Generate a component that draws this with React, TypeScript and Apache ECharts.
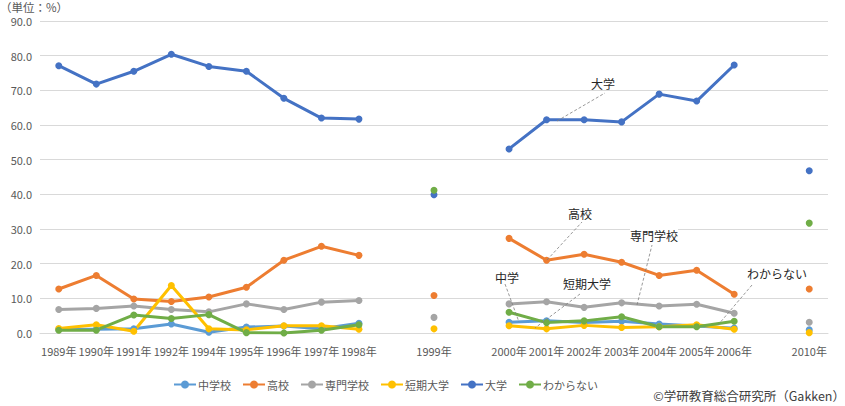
import React, { useEffect, useRef } from "react";
import * as echarts from "echarts";

const categories = ["1989年","1990年","1991年","1992年","1994年","1995年","1996年","1997年","1998年","","1999年","","2000年","2001年","2002年","2003年","2004年","2005年","2006年","","2010年"];
const yTicks = [0, 90, 10];

const seriesNames = ["中学校", "高校", "専門学校", "短期大学", "大学", "わからない"];
const seriesColors = ["#5B9BD5", "#ED7D31", "#A5A5A5", "#FFC000", "#4472C4", "#70AD47"];

const juniorHigh = [1.0,1.1,1.2,2.6,0.2,1.7,2.0,1.2,2.8,null,null,null,3.1,3.5,3.0,3.4,2.6,2.0,1.4,null,0.9];
const highSchool = [12.7,16.6,9.8,9.1,10.4,13.2,21.0,25.0,22.4,null,10.8,null,27.3,21.0,22.7,20.4,16.6,18.1,11.2,null,12.7];
const vocational = [6.8,7.1,7.8,6.8,6.1,8.4,6.8,8.9,9.4,null,4.5,null,8.4,9.0,7.4,8.7,7.8,8.3,5.7,null,3.1];
const juniorCollege = [1.3,2.4,0.5,13.7,1.2,0.9,2.1,2.1,1.1,null,1.2,null,2.1,1.2,2.2,1.6,1.8,2.4,1.1,null,0.1];
const university = [77.1,71.8,75.5,80.4,76.9,75.5,67.7,62.0,61.7,null,39.9,null,53.1,61.5,61.5,60.9,68.9,66.9,77.3,null,46.8];
const unknown = [0.8,0.8,5.2,4.2,5.3,0.1,0.0,0.8,2.4,null,41.2,null,6.0,3.0,3.5,4.7,1.8,1.8,3.4,null,31.7];

const allData = [juniorHigh, highSchool, vocational, juniorCollege, university, unknown];

const FONT = "'Noto Sans CJK JP', 'Noto Sans', sans-serif";

const annotations = [
  { text: "大学", tx: 603, ty: 83, line: [557, 121, 605, 93] },
  { text: "高校", tx: 580, ty: 213, line: [547, 260, 582, 222] },
  { text: "専門学校", tx: 654, ty: 235, line: [637, 305, 652, 245] },
  { text: "中学", tx: 507, ty: 277, line: [505, 284, 519, 322] },
  { text: "短期大学", tx: 587, ty: 283, line: [580, 294, 535, 328] },
  { text: "わからない", tx: 777, ty: 273, line: [752, 285, 718, 325] },
];

export default function App() {
  const ref = useRef<HTMLDivElement>(null);
  useEffect(() => {
    const chart = echarts.init(ref.current!, null, { renderer: "svg" });
    const graphic: any[] = [
      {
        type: "text",
        x: 0,
        y: 1,
        style: {
          text: "（単位：%）",
          fill: "#595959",
          font: `11.5px ${FONT}`,
          lineHeight: 11,
          verticalAlign: "top",
        },
      },
      {
        type: "text",
        right: 0,
        top: 389,
        style: { text: "©学研教育総合研究所（Gakken）", fill: "#404040", font: `12.5px ${FONT}` },
      },
    ];
    annotations.forEach((a) => {
      graphic.push({
        type: "line",
        shape: { x1: a.line[0], y1: a.line[1], x2: a.line[2], y2: a.line[3] },
        style: { stroke: "#7F7F7F", lineWidth: 0.8, lineDash: [3, 2] },
        z: 10,
      });
      graphic.push({
        type: "text",
        x: a.tx,
        y: a.ty,
        style: {
          text: a.text,
          fill: "#262626",
          font: `12px ${FONT}`,
          align: "center",
          verticalAlign: "middle",
          backgroundColor: "#ffffff",
        },
        z: 11,
      });
    });
    chart.setOption({
      animation: false,
      backgroundColor: "#ffffff",
      textStyle: { fontFamily: FONT },
      grid: { left: 40, right: 17, top: 21, bottom: 73, containLabel: false },
      legend: {
        left: 168,
        top: 374,
        itemWidth: 22,
        itemHeight: 10,
        itemGap: 11,
        textStyle: { color: "#595959", fontSize: 11, fontFamily: FONT, padding: [0, 0, 0, -3] },
        data: seriesNames,
      },
      xAxis: {
        type: "category",
        data: categories,
        boundaryGap: true,
        axisLine: { show: true, lineStyle: { color: "#D9D9D9", width: 1 } },
        axisTick: { show: false },
        axisLabel: { interval: 0, color: "#595959", fontSize: 11, margin: 12, fontFamily: FONT },
      },
      yAxis: {
        type: "value",
        min: yTicks[0],
        max: yTicks[1],
        interval: yTicks[2],
        axisLine: { show: false },
        axisTick: { show: false },
        axisLabel: {
          color: "#595959",
          fontSize: 11,
          lineHeight: 11,
          margin: 8,
          fontFamily: FONT,
          formatter: (v: number) => v.toFixed(1),
        },
        splitLine: { lineStyle: { color: "#D9D9D9", width: 1 } },
      },
      series: seriesNames.map((name, i) => ({
        name,
        type: "line",
        data: allData[i],
        connectNulls: false,
        symbol: "circle",
        symbolSize: 7,
        showSymbol: true,
        itemStyle: { color: seriesColors[i] },
        lineStyle: { color: seriesColors[i], width: 3 },
        emphasis: { disabled: true },
      })),
      graphic,
    });
    return () => chart.dispose();
  }, []);
  return (
    <div
      ref={ref}
      style={{ position: "fixed", left: 0, top: 0, width: 845, height: 406 }}
    />
  );
}
